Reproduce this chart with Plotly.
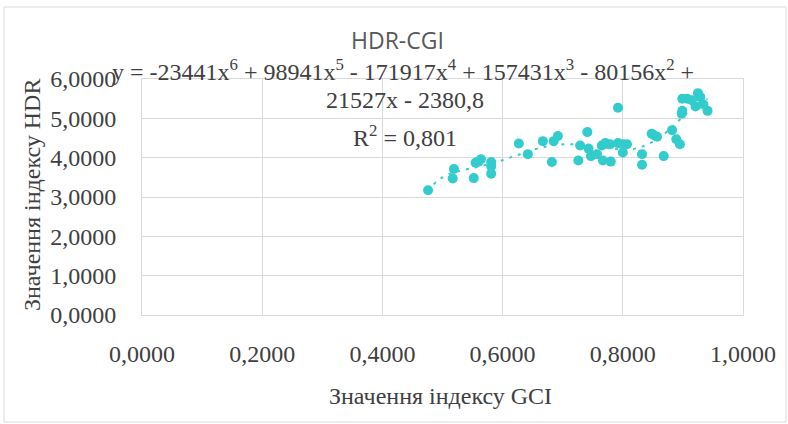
import numpy as np
import plotly.graph_objects as go

# ---- data ----
gci = [0.476, 0.519, 0.517, 0.552, 0.555, 0.564, 0.560, 0.581, 0.581, 0.581,
       0.627, 0.642, 0.667, 0.685, 0.692, 0.682, 0.741, 0.729, 0.726, 0.743,
       0.747, 0.757, 0.767, 0.780, 0.765, 0.771, 0.779, 0.792, 0.800, 0.807,
       0.800, 0.832, 0.832, 0.848, 0.857, 0.868, 0.792, 0.882, 0.889, 0.895,
       0.852, 0.899, 0.907, 0.925, 0.929, 0.915, 0.921, 0.934, 0.941, 0.899,
       0.898]
hdr = [3.17, 3.71, 3.47, 3.48, 3.87, 3.96, 3.90, 3.89, 3.78, 3.59,
       4.36, 4.09, 4.42, 4.42, 4.55, 3.89, 4.65, 4.31, 3.93, 4.23,
       4.04, 4.09, 3.93, 3.90, 4.31, 4.37, 4.34, 4.37, 4.34, 4.34,
       4.13, 4.09, 3.82, 4.61, 4.53, 4.04, 5.27, 4.70, 4.47, 4.34,
       4.57, 5.50, 5.50, 5.64, 5.54, 5.46, 5.30, 5.36, 5.19, 5.19,
       5.12]

x_tickvals = [0.0, 0.2, 0.4, 0.6, 0.8, 1.0]
x_ticktext = ["0,0000", "0,2000", "0,4000", "0,6000", "0,8000", "1,0000"]
y_tickvals = [0, 1, 2, 3, 4, 5, 6]
y_ticktext = ["0,0000", "1,0000", "2,0000", "3,0000", "4,0000", "5,0000", "6,0000"]

title_text = "HDR-CGI"
eq_line1 = ("y = -23441x<sup>6</sup> + 98941x<sup>5</sup> - 171917x<sup>4</sup> + "
            "157431x<sup>3</sup> - 80156x<sup>2</sup> +")
eq_line2 = "21527x - 2380,8"
r2_text = "R<sup>2</sup> = 0,801"
x_title = "Значення індексу GCI"
y_title = "Значення індексу HDR"

# ---- layout geometry ----
W, H = 788, 424
L, R, T, B = 142, 45, 79, 109
pw, ph = W - L - R, H - T - B


def px(xp):
    return (xp - L) / pw


def py(yp):
    return (H - B - yp) / ph


teal = "#33CCCC"
txt = "#404040"
serif = "Liberation Serif, Times New Roman, serif"

# polynomial (6th order) trendline fitted to the points
coef = np.polyfit(gci, hdr, 6)
xf = np.linspace(min(gci), max(gci), 200)
yf = np.polyval(coef, xf)

fig = go.Figure()
fig.add_trace(go.Scatter(x=gci, y=hdr, mode="markers",
                         marker=dict(color=teal, size=10, line=dict(width=0)),
                         showlegend=False, hoverinfo="skip"))
fig.add_trace(go.Scatter(x=xf, y=yf, mode="lines",
                         line=dict(color=teal, width=2, dash="3px,6px"),
                         showlegend=False, hoverinfo="skip"))

grid = "#d9d9d9"
fig.update_xaxes(range=[0, 1], tickvals=x_tickvals, ticktext=x_ticktext,
                 showgrid=True, gridcolor=grid, gridwidth=1, zeroline=False,
                 showline=True, linecolor=grid, mirror=True,
                 tickfont=dict(family=serif, size=24, color=txt),
                 ticks="", ticklabelstandoff=17)
fig.update_yaxes(range=[0, 6], tickvals=y_tickvals, ticktext=y_ticktext,
                 showgrid=True, gridcolor=grid, gridwidth=1, zeroline=False,
                 showline=True, linecolor=grid, mirror=True,
                 tickfont=dict(family=serif, size=24, color=txt),
                 ticks="", ticklabelstandoff=20)

ann = [
    dict(text=title_text, x=px(397), y=py(40),
         font=dict(family="Open Sans, Liberation Sans, sans-serif", size=23, color="#595959")),
    dict(text=eq_line1, x=px(403), y=py(70), font=dict(family=serif, size=24, color=txt)),
    dict(text=eq_line2, x=px(405), y=py(100), font=dict(family=serif, size=24, color=txt)),
    dict(text=r2_text, x=px(405), y=py(136), font=dict(family=serif, size=24, color=txt)),
    dict(text=x_title, x=px(440), y=py(396), font=dict(family=serif, size=24, color=txt)),
    dict(text=y_title, x=px(32), y=py(195), textangle=-90,
         font=dict(family=serif, size=24, color=txt)),
]
for a in ann:
    fig.add_annotation(xref="paper", yref="paper", showarrow=False,
                       xanchor="center", yanchor="middle", **a)

# outer chart frame
fig.add_shape(type="rect", xref="paper", yref="paper",
              x0=px(4), x1=px(786), y0=py(422), y1=py(7),
              line=dict(color="#d9d9d9", width=1), fillcolor="rgba(0,0,0,0)",
              layer="below")

fig.update_layout(width=W, height=H, margin=dict(l=L, r=R, t=T, b=B),
                  paper_bgcolor="white", plot_bgcolor="white")

fig.write_html("out.html")
